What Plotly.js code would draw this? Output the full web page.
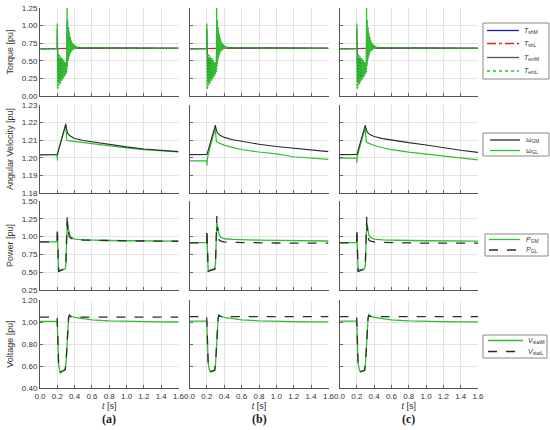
<!DOCTYPE html>
<html><head><meta charset="utf-8">
<script src="https://cdn.plot.ly/plotly-3.0.1.min.js"></script>
<style>html,body{margin:0;padding:0;background:#fff;}#chart{width:550px;height:430px;}</style>
</head><body><div id="chart"></div>
<script>
// ---------- DATA ----------
const tTorque = [0, 0.198, 0.200, 0.202,
  0.205, 0.210, 0.215, 0.220, 0.225, 0.230, 0.235, 0.240, 0.245, 0.250, 0.255, 0.260, 0.265, 0.270, 0.275, 0.280, 0.285, 0.290, 0.295, 0.300, 0.305, 0.310,
  0.313, 0.316,
  0.320, 0.325, 0.330, 0.335, 0.340, 0.345, 0.350, 0.355, 0.360, 0.365, 0.370, 0.375, 0.380, 0.385, 0.390, 0.395, 0.400, 0.405, 0.410, 0.415, 0.420, 0.425, 0.430, 0.435, 0.440, 0.445, 0.450,
  0.460, 0.500, 0.600, 0.800, 1.000, 1.200, 1.400, 1.600];
const torqueEmL = [0.672, 0.672, 1.03, 0.10,
  0.62, 0.12, 0.60, 0.15, 0.58, 0.17, 0.57, 0.19, 0.55, 0.21, 0.54, 0.23, 0.52, 0.25, 0.51, 0.27, 0.49, 0.29, 0.48, 0.31, 0.46, 0.34,
  1.25, 0.42,
  1.08, 0.50, 0.98, 0.55, 0.90, 0.59, 0.84, 0.62, 0.79, 0.635, 0.765, 0.65, 0.745, 0.66, 0.73, 0.665, 0.72, 0.67, 0.71, 0.673, 0.703, 0.676, 0.698, 0.678, 0.694, 0.68, 0.69,
  0.685, 0.684, 0.683, 0.681, 0.680, 0.679, 0.678, 0.678];
const torqueEmM = [0.672, 0.672, 0.95, 0.20,
  0.55, 0.20, 0.55, 0.22, 0.53, 0.24, 0.52, 0.25, 0.51, 0.27, 0.50, 0.28, 0.49, 0.30, 0.48, 0.31, 0.47, 0.32, 0.46, 0.34, 0.45, 0.42,
  1.05, 0.45,
  0.98, 0.52, 0.92, 0.57, 0.86, 0.60, 0.81, 0.63, 0.77, 0.645, 0.75, 0.655, 0.735, 0.662, 0.725, 0.668, 0.715, 0.672, 0.706, 0.675, 0.70, 0.677, 0.696, 0.679, 0.692, 0.681, 0.689,
  0.685, 0.684, 0.683, 0.681, 0.680, 0.679, 0.678, 0.678];
const tShaft = [0, 0.2, 0.25, 0.3, 0.35, 0.4, 0.6, 1.0, 1.6];
const torqueShM = [0.672, 0.672, 0.670, 0.668, 0.676, 0.680, 0.680, 0.679, 0.678];
const torqueShL = [0.672, 0.672, 0.671, 0.669, 0.677, 0.681, 0.680, 0.679, 0.678];

const tOmega = [0, 0.195, 0.200, 0.201, 0.205, 0.25, 0.298, 0.302, 0.306, 0.31, 0.32, 0.35, 0.4, 0.5, 0.6, 0.8, 1.0, 1.2, 1.4, 1.6];
const omegaGM_a = [1.2017, 1.2017, 1.2017, 1.2019, 1.2026, 1.2105, 1.2188, 1.2175, 1.2160, 1.2150, 1.2138, 1.2124, 1.2110, 1.2098, 1.2090, 1.2075, 1.2062, 1.2050, 1.2042, 1.2035];
const omegaGL_a = [1.2016, 1.2016, 1.2000, 1.1985, 1.2030, 1.2110, 1.2196, 1.2150, 1.2105, 1.2100, 1.2098, 1.2096, 1.2092, 1.2087, 1.2080, 1.2067, 1.2056, 1.2046, 1.2039, 1.2033];
const omegaGM_b = [1.2018, 1.2018, 1.2018, 1.2019, 1.2025, 1.2104, 1.2186, 1.2172, 1.2160, 1.2152, 1.2142, 1.2128, 1.2116, 1.2103, 1.2093, 1.2077, 1.2064, 1.2053, 1.2043, 1.2035];
const omegaGL_b = [1.1982, 1.1982, 1.1975, 1.1955, 1.1995, 1.2085, 1.2168, 1.2130, 1.2098, 1.2092, 1.2088, 1.2082, 1.2072, 1.2058, 1.2047, 1.2033, 1.2022, 1.2006, 1.1997, 1.1991];
const omegaGM_c = [1.2018, 1.2018, 1.2018, 1.2019, 1.2025, 1.2104, 1.2186, 1.2174, 1.2162, 1.2155, 1.2145, 1.2132, 1.2121, 1.2109, 1.2100, 1.2086, 1.2073, 1.2057, 1.2043, 1.2031];
const omegaGL_c = [1.1998, 1.1998, 1.1990, 1.1970, 1.2005, 1.2090, 1.2167, 1.2130, 1.2095, 1.2089, 1.2086, 1.2080, 1.2070, 1.2057, 1.2046, 1.2032, 1.2021, 1.2006, 1.1996, 1.1988];

const tPower = [0, 0.198, 0.200, 0.204, 0.210, 0.215, 0.25, 0.29, 0.298, 0.305, 0.310, 0.315, 0.320, 0.325, 0.33, 0.34, 0.36, 0.4, 0.5, 0.6, 0.8, 1.0, 1.2, 1.4, 1.6];
const powerGM_a = [0.925, 0.925, 1.05, 0.80, 0.55, 0.52, 0.535, 0.545, 0.60, 0.90, 1.10, 1.19, 1.17, 1.12, 1.08, 1.03, 0.99, 0.965, 0.955, 0.950, 0.945, 0.942, 0.940, 0.938, 0.937];
const powerGL_a = [0.925, 0.925, 1.13, 0.75, 0.53, 0.51, 0.53, 0.54, 0.58, 0.95, 1.20, 1.31, 1.10, 1.15, 1.05, 1.00, 0.975, 0.960, 0.952, 0.948, 0.944, 0.940, 0.938, 0.936, 0.935];
const powerGM_b = [0.915, 0.915, 1.05, 0.80, 0.55, 0.52, 0.535, 0.545, 0.60, 0.90, 1.10, 1.20, 1.17, 1.12, 1.08, 1.03, 0.99, 0.970, 0.960, 0.955, 0.950, 0.946, 0.943, 0.940, 0.938];
const powerGL_b = [0.912, 0.912, 1.10, 0.75, 0.53, 0.51, 0.53, 0.54, 0.58, 0.95, 1.18, 1.29, 1.08, 1.12, 1.00, 0.95, 0.935, 0.925, 0.918, 0.915, 0.912, 0.910, 0.909, 0.908, 0.908];
const powerGM_c = [0.915, 0.915, 1.04, 0.80, 0.55, 0.52, 0.535, 0.545, 0.60, 0.90, 1.10, 1.19, 1.16, 1.11, 1.07, 1.02, 0.985, 0.965, 0.955, 0.950, 0.945, 0.942, 0.940, 0.938, 0.937];
const powerGL_c = [0.912, 0.912, 1.12, 0.75, 0.53, 0.51, 0.53, 0.54, 0.58, 0.95, 1.18, 1.28, 1.08, 1.12, 1.00, 0.95, 0.935, 0.925, 0.918, 0.914, 0.911, 0.909, 0.908, 0.907, 0.907];

const tVolt = [0, 0.198, 0.2, 0.205, 0.215, 0.23, 0.24, 0.25, 0.27, 0.29, 0.30, 0.31, 0.32, 0.33, 0.34, 0.35, 0.36, 0.4, 0.5, 0.6, 0.8, 1.0, 1.2, 1.4, 1.6];
const voltM_a = [1.005, 1.005, 0.98, 0.80, 0.62, 0.545, 0.535, 0.55, 0.555, 0.565, 0.62, 0.78, 0.93, 1.03, 1.065, 1.058, 1.052, 1.043, 1.030, 1.020, 1.010, 1.005, 1.002, 1.001, 1.000];
const voltL_a = [1.045, 1.045, 1.00, 0.80, 0.62, 0.55, 0.545, 0.55, 0.555, 0.565, 0.62, 0.78, 0.94, 1.04, 1.06, 1.048, 1.046, 1.045, 1.045, 1.045, 1.045, 1.045, 1.045, 1.045, 1.045];
const voltM_b = [1.008, 1.008, 0.98, 0.80, 0.63, 0.56, 0.545, 0.548, 0.552, 0.560, 0.62, 0.78, 0.93, 1.03, 1.065, 1.058, 1.052, 1.043, 1.030, 1.020, 1.010, 1.005, 1.003, 1.002, 1.001];
const voltL_b = [1.048, 1.048, 1.00, 0.80, 0.62, 0.56, 0.55, 0.55, 0.555, 0.562, 0.62, 0.78, 0.94, 1.04, 1.06, 1.050, 1.048, 1.048, 1.048, 1.048, 1.048, 1.048, 1.048, 1.048, 1.048];
const voltM_c = [1.008, 1.008, 0.98, 0.80, 0.63, 0.56, 0.545, 0.548, 0.552, 0.560, 0.62, 0.78, 0.93, 1.03, 1.065, 1.058, 1.052, 1.043, 1.030, 1.020, 1.010, 1.005, 1.003, 1.002, 1.001];
const voltL_c = [1.048, 1.048, 1.00, 0.80, 0.62, 0.56, 0.55, 0.55, 0.555, 0.562, 0.62, 0.78, 0.94, 1.04, 1.06, 1.050, 1.048, 1.048, 1.048, 1.048, 1.048, 1.048, 1.048, 1.048, 1.048];

const xTickVals = [0, 0.2, 0.4, 0.6, 0.8, 1.0, 1.2, 1.4, 1.6];
const panelLabels = ['(a)', '(b)', '(c)'];
const rowTitles = ['Torque [pu]', 'Angular Velocity [pu]', 'Power [pu]', 'Voltage [pu]'];
const legendNames = [
  ['<i>T</i><sub>shM</sub>', '<i>T</i><sub>shL</sub>', '<i>T</i><sub>emM</sub>', '<i>T</i><sub>emL</sub>'],
  ['ω<sub>GM</sub>', 'ω<sub>GL</sub>'],
  ['<i>P</i><sub>GM</sub>', '<i>P</i><sub>GL</sub>'],
  ['<i>V</i><sub>statM</sub>', '<i>V</i><sub>statL</sub>']
];

// ---------- STYLE / LAYOUT ----------
const W = 550, H = 430;
const FONT = 'Liberation Sans, Arial, sans-serif';
const GREEN = '#2fbf2f', DARK = '#2b2b2b';
const colPx = [[40, 178.5], [189.5, 328.5], [339.5, 478]];
const rowPx = [[8, 96], [105, 193], [201, 290], [300, 388]];
const yRanges = [[0, 1.25], [1.18, 1.23], [0.25, 1.5], [0.4, 1.2]];
const yDticks = [0.25, 0.01, 0.25, 0.2];
const legendBoxPx = [[483, 23, 549, 79], [483, 133, 549, 156], [485, 234, 548, 256], [483, 335, 547, 358]];
const legendItemY = [[30.5, 43.5, 57.5, 71], [140, 150.5], [239.5, 250], [340.5, 351.5]];
const legendLineX = [[487, 519], [490, 520], [489, 520], [488, 523]];
const legendTextX = [522, 524, 524, 526];
const legendStyles = [
  [{color: '#1a1aa8', dash: 'solid'}, {color: '#e02020', dash: 'dashdot'}, {color: '#555555', dash: 'solid'}, {color: GREEN, dash: 'dot'}],
  [{color: DARK, dash: 'solid'}, {color: GREEN, dash: 'solid'}],
  [{color: GREEN, dash: 'solid'}, {color: DARK, dash: 'dash'}],
  [{color: GREEN, dash: 'solid'}, {color: DARK, dash: 'dash'}]
];

const traces = [];
function ax(r, c) { return r * 3 + c + 1; }
function add(r, c, x, y, name, line) {
  const i = ax(r, c);
  traces.push({
    type: 'scatter', mode: 'lines', x: x, y: y, name: name,
    xaxis: 'x' + (i === 1 ? '' : i), yaxis: 'y' + (i === 1 ? '' : i),
    showlegend: false, line: line, hoverinfo: 'skip'
  });
}
const omegaGM = [omegaGM_a, omegaGM_b, omegaGM_c];
const omegaGL = [omegaGL_a, omegaGL_b, omegaGL_c];
const powerGM = [powerGM_a, powerGM_b, powerGM_c];
const powerGL = [powerGL_a, powerGL_b, powerGL_c];
const voltM = [voltM_a, voltM_b, voltM_c];
const voltL = [voltL_a, voltL_b, voltL_c];
for (let c = 0; c < 3; c++) {
  add(0, c, tShaft, torqueShM, 'T shM', {color: '#1a1aa8', width: 1.2});
  add(0, c, tShaft, torqueShL, 'T shL', {color: '#e02020', width: 1.2, dash: 'dashdot'});
  add(0, c, tTorque, torqueEmM, 'T emM', {color: '#444444', width: 1.2});
  add(0, c, tTorque, torqueEmL, 'T emL', {color: GREEN, width: 1.3, dash: '2px,1px'});
  add(1, c, tOmega, omegaGL[c], 'omega GL', {color: GREEN, width: 1.2});
  add(1, c, tOmega, omegaGM[c], 'omega GM', {color: DARK, width: 1.1});
  add(2, c, tPower, powerGM[c], 'P GM', {color: GREEN, width: 1.3});
  add(2, c, tPower, powerGL[c], 'P GL', {color: DARK, width: 1.3, dash: 'dash'});
  add(3, c, tVolt, voltM[c], 'V statM', {color: GREEN, width: 1.3});
  add(3, c, tVolt, voltL[c], 'V statL', {color: DARK, width: 1.3, dash: 'dash'});
}
const layout = {
  width: W, height: H, margin: {l: 0, r: 0, t: 0, b: 0},
  paper_bgcolor: '#fff', plot_bgcolor: '#fff', showlegend: false,
  font: {family: FONT, size: 8, color: '#333'},
  annotations: [], shapes: []
};
const px2x = p => p / W, px2y = p => 1 - p / H;
for (let r = 0; r < 4; r++) {
  for (let c = 0; c < 3; c++) {
    const i = ax(r, c);
    const xk = 'xaxis' + (i === 1 ? '' : i), yk = 'yaxis' + (i === 1 ? '' : i);
    layout[xk] = {
      domain: [px2x(colPx[c][0]), px2x(colPx[c][1])], range: [0, 1.6],
      anchor: 'y' + (i === 1 ? '' : i),
      tickvals: xTickVals, tickformat: '.1f', showticklabels: r === 3,
      ticks: 'inside', ticklen: 3, tickcolor: '#666',
      showline: true, linecolor: '#555', linewidth: 1, mirror: false,
      showgrid: true, gridcolor: '#e4e4e4', gridwidth: 1, zeroline: false,
      tickfont: {size: 8, color: '#333', family: FONT}, automargin: false, fixedrange: true
    };
    if (r === 3) layout[xk].title = {text: '<i>t</i> [s]', font: {size: 9, color: '#333', family: FONT}, standoff: 0};
    layout[yk] = {
      domain: [px2y(rowPx[r][1]), px2y(rowPx[r][0])], range: yRanges[r],
      anchor: 'x' + (i === 1 ? '' : i),
      dtick: yDticks[r], tick0: yRanges[r][0], tickformat: '.2f', showticklabels: c === 0,
      ticks: 'inside', ticklen: 3, tickcolor: '#666',
      showline: true, linecolor: '#555', linewidth: 1, mirror: false,
      showgrid: true, gridcolor: '#e4e4e4', gridwidth: 1, zeroline: false,
      tickfont: {size: 8, color: '#333', family: FONT}, automargin: false, fixedrange: true
    };
    if (c === 0) layout[yk].title = {text: rowTitles[r], font: {size: 9, color: '#333', family: FONT}, standoff: 6};
  }
  const b = legendBoxPx[r];
  layout.shapes.push({type: 'rect', xref: 'paper', yref: 'paper',
    x0: px2x(b[0]), x1: px2x(b[2]), y0: px2y(b[3]), y1: px2y(b[1]),
    line: {color: '#888', width: 1}, fillcolor: '#fff', layer: 'above'});
  for (let k = 0; k < legendNames[r].length; k++) {
    const yy = px2y(legendItemY[r][k]);
    const st = legendStyles[r][k];
    layout.shapes.push({type: 'line', xref: 'paper', yref: 'paper',
      x0: px2x(legendLineX[r][0]), x1: px2x(legendLineX[r][1]), y0: yy, y1: yy,
      line: {color: st.color, width: 1.3, dash: st.dash}, layer: 'above'});
    layout.annotations.push({xref: 'paper', yref: 'paper', x: px2x(legendTextX[r]), y: yy,
      text: legendNames[r][k], showarrow: false, xanchor: 'left', yanchor: 'middle',
      font: {size: 7, color: '#333', family: FONT}});
  }
}
for (let c = 0; c < 3; c++) {
  layout.annotations.push({
    xref: 'paper', yref: 'paper', x: px2x((colPx[c][0] + colPx[c][1]) / 2), y: px2y(419),
    text: '<b>' + panelLabels[c] + '</b>', showarrow: false, xanchor: 'center', yanchor: 'middle',
    font: {size: 12, color: '#222', family: 'Liberation Serif, Times New Roman, serif'}
  });
}
Plotly.newPlot('chart', traces, layout, {displayModeBar: false, staticPlot: true});
</script>
</body></html>
